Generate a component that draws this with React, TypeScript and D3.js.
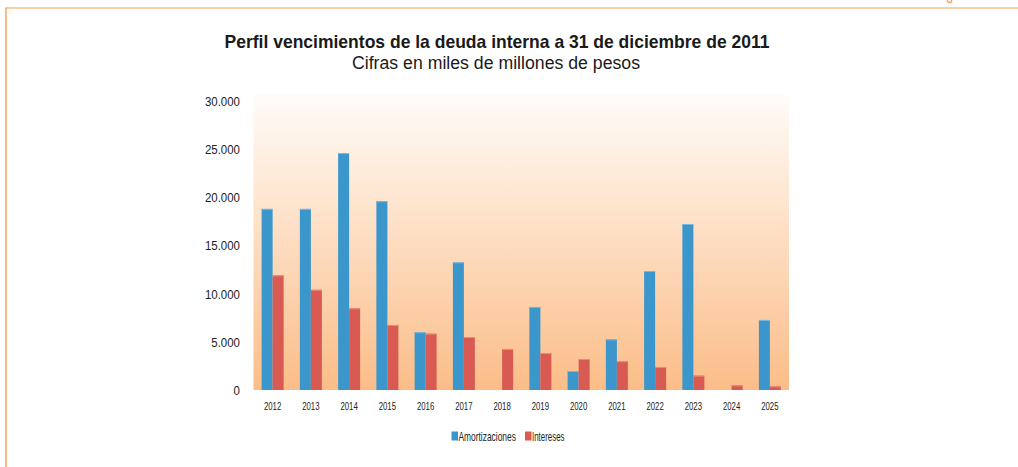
import React from "react";
import * as d3 from "d3";

const years = ["2012","2013","2014","2015","2016","2017","2018","2019","2020","2021","2022","2023","2024","2025"];
const amortizaciones = [18800, 18800, 24600, 19600, 6000, 13250, 0, 8620, 1970, 5260, 12350, 17230, 0, 7270];
const intereses = [11900, 10400, 8480, 6750, 5850, 5500, 4260, 3840, 3220, 2980, 2390, 1490, 490, 380];
const yTicks = [0, 5000, 10000, 15000, 20000, 25000, 30000];
const seriesNames = ["Amortizaciones", "Intereses"];
const seriesColors = ["#3a96cb", "#d95a53"];
const seriesStrokes = ["#7cb7dc", "#e98a80"];

const W = 1018, H = 467;
const plot = { left: 253.5, right: 789, top: 95, bottom: 390 };
const FONT = "'Liberation Sans', Arial, sans-serif";

function NText({ x, y, sx, anchor = "start", size, weight = "normal", children, dy }: any) {
  return (
    <g transform={`translate(${x},${y}) scale(${sx},1)`}>
      <text x={0} y={0} dy={dy} textAnchor={anchor} fontFamily={FONT} fontSize={size} fontWeight={weight} fill="#222">
        {children}
      </text>
    </g>
  );
}

export default function App() {
  const x = d3.scaleBand<string>().domain(years).range([plot.left, plot.right]).paddingInner(0).paddingOuter(0);
  const y = d3.scaleLinear().domain([0, 30000]).range([plot.bottom, 101]);
  const barW = 11;
  const fmt = (v: number) => (v === 0 ? "0" : d3.format(",")(v).replace(/,/g, "."));
  const series = [amortizaciones, intereses];

  return (
    <svg width={W} height={H} style={{ position: "absolute", left: 0, top: 0, display: "block" }}>
      <defs>
        <linearGradient id="bg" x1="0" y1="0" x2="0" y2="1">
          <stop offset="0%" stopColor="#fffcf8" />
          <stop offset="100%" stopColor="#fbbd88" />
        </linearGradient>
      </defs>
      <rect x={0} y={0} width={W} height={H} fill="#ffffff" />
      {/* frame */}
      <line x1={6} y1={8} x2={W} y2={8} stroke="#f6c08e" strokeWidth={1.5} />
      <line x1={6} y1={7.5} x2={6} y2={467} stroke="#f2a25e" strokeWidth={1.5} />
      <path d="M947,0 Q948,3 950.5,2.5 Q952,2 951.5,0" fill="none" stroke="#f2a25e" strokeWidth={1.4} />

      {/* titles */}
      <text x={497} y={48} textAnchor="middle" fontFamily={FONT} fontWeight="bold" fontSize={18.5} fill="#1a1a1a"
        textLength={545} lengthAdjust="spacingAndGlyphs">
        Perfil vencimientos de la deuda interna a 31 de diciembre de 2011
      </text>
      <text x={496} y={69} textAnchor="middle" fontFamily={FONT} fontSize={17.5} fill="#1a1a1a"
        textLength={288} lengthAdjust="spacingAndGlyphs">
        Cifras en miles de millones de pesos
      </text>

      {/* plot background */}
      <rect x={plot.left} y={plot.top} width={plot.right - plot.left} height={plot.bottom - plot.top} fill="url(#bg)" />

      {/* y ticks */}
      {yTicks.map((t) => (
        <NText key={t} x={240} y={y(t)} dy="0.36em" anchor="end" size={13.5} sx={0.85}>
          {fmt(t)}
        </NText>
      ))}

      {/* bars */}
      {years.map((yr, i) => {
        const c = (x(yr) as number) + x.bandwidth() / 2;
        return (
          <g key={yr}>
            {series.map((s, k) => {
              const v = s[i];
              if (v <= 0) return null;
              const bx = c - barW + k * barW;
              const top = y(v);
              return (
                <g key={k}>
                  <rect x={bx} y={top} width={barW} height={plot.bottom - top} fill={seriesColors[k]} />
                  <rect x={bx} y={top} width={barW} height={1} fill={seriesStrokes[k]} />
                </g>
              );
            })}
            <NText x={c} y={409.5} anchor="middle" size={10.8} sx={0.72}>{yr}</NText>
          </g>
        );
      })}

      {/* legend */}
      <g>
        <rect x={451.5} y={431.5} width={6.5} height={9} fill={seriesColors[0]} />
        <NText x={458.5} y={440.5} size={12} sx={0.7}>{seriesNames[0]}</NText>
        <rect x={525} y={431.5} width={6.5} height={9} fill={seriesColors[1]} />
        <NText x={532} y={440.5} size={12} sx={0.66}>{seriesNames[1]}</NText>
      </g>
    </svg>
  );
}
